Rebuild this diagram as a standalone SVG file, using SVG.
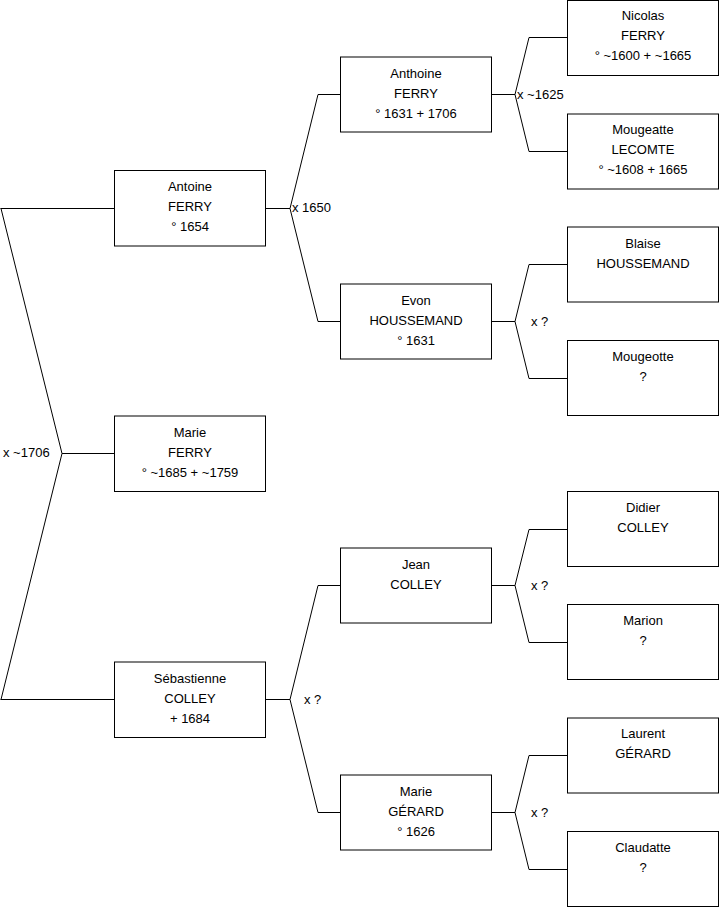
<svg xmlns="http://www.w3.org/2000/svg" width="719" height="908" viewBox="0 0 719 908">
<style>
.box{fill:#fff;stroke:#000;stroke-width:1}
.c{fill:none;stroke:#000;stroke-width:1}
text{font-family:"Liberation Sans",Arial,sans-serif;font-size:13px;fill:#000}
.n{text-anchor:middle}
</style>
<rect width="719" height="908" fill="#fff"/>
<g id="connectors">
<path class="c" d="M114 453.5H62 M0.5 208.5H114 M62 453.5L1 208.5 M62 453.5L1 699.5 M0.5 699.5H114"/>
<path class="c" d="M265 208.5H290 L318 94.5H341 M290 208.5L318 321.5H341"/>
<path class="c" d="M265 699.5H290 L318 585.5H341 M290 699.5L318 812.5H341"/>
<path class="c" d="M491 94.5H515 L529 37.5H567 M515 94.5L529 151.5H567"/>
<path class="c" d="M491 321.5H515 L529 264.5H567 M515 321.5L529 378.5H567"/>
<path class="c" d="M491 585.5H515 L529 529.5H567 M515 585.5L529 642.5H567"/>
<path class="c" d="M491 812.5H515 L529 755.5H567 M515 812.5L529 869.5H567"/>
<text x="3" y="457">x ~1706</text>
<text x="292" y="211.5">x 1650</text>
<text x="304" y="703.5">x ?</text>
<text x="517" y="98.5">x ~1625</text>
<text x="531" y="325.5">x ?</text>
<text x="531" y="589.5">x ?</text>
<text x="531" y="816.5">x ?</text>
</g>
<g id="antoine"><rect class="box" x="114.5" y="170.5" width="151" height="75.5"/><text class="n" x="190" y="191">Antoine</text><text class="n" x="190" y="211">FERRY</text><text class="n" x="190" y="231">° 1654</text></g>
<g id="marie-ferry"><rect class="box" x="114.5" y="416" width="151" height="75.5"/><text class="n" x="190" y="437">Marie</text><text class="n" x="190" y="457">FERRY</text><text class="n" x="190" y="477">° ~1685 + ~1759</text></g>
<g id="sebastienne"><rect class="box" x="114.5" y="662" width="151" height="75.5"/><text class="n" x="190" y="683">Sébastienne</text><text class="n" x="190" y="703">COLLEY</text><text class="n" x="190" y="723">+ 1684</text></g>
<g id="anthoine"><rect class="box" x="340.5" y="57" width="151" height="75"/><text class="n" x="416" y="78">Anthoine</text><text class="n" x="416" y="98">FERRY</text><text class="n" x="416" y="118">° 1631 + 1706</text></g>
<g id="evon"><rect class="box" x="340.5" y="284" width="151" height="75"/><text class="n" x="416" y="305">Evon</text><text class="n" x="416" y="325">HOUSSEMAND</text><text class="n" x="416" y="345">° 1631</text></g>
<g id="jean"><rect class="box" x="340.5" y="548" width="151" height="75"/><text class="n" x="416" y="569">Jean</text><text class="n" x="416" y="589">COLLEY</text></g>
<g id="marie-gerard"><rect class="box" x="340.5" y="775" width="151" height="75"/><text class="n" x="416" y="796">Marie</text><text class="n" x="416" y="816">GÉRARD</text><text class="n" x="416" y="836">° 1626</text></g>
<g id="nicolas"><rect class="box" x="567.5" y="0.5" width="151" height="75"/><text class="n" x="643" y="20">Nicolas</text><text class="n" x="643" y="40">FERRY</text><text class="n" x="643" y="60">° ~1600 + ~1665</text></g>
<g id="mougeatte"><rect class="box" x="567.5" y="114" width="151" height="75"/><text class="n" x="643" y="134">Mougeatte</text><text class="n" x="643" y="154">LECOMTE</text><text class="n" x="643" y="174">° ~1608 + 1665</text></g>
<g id="blaise"><rect class="box" x="567.5" y="227" width="151" height="75"/><text class="n" x="643" y="248">Blaise</text><text class="n" x="643" y="268">HOUSSEMAND</text></g>
<g id="mougeotte"><rect class="box" x="567.5" y="340.5" width="151" height="75"/><text class="n" x="643" y="361">Mougeotte</text><text class="n" x="643" y="381">?</text></g>
<g id="didier"><rect class="box" x="567.5" y="491.5" width="151" height="75"/><text class="n" x="643" y="512">Didier</text><text class="n" x="643" y="532">COLLEY</text></g>
<g id="marion"><rect class="box" x="567.5" y="604.5" width="151" height="75"/><text class="n" x="643" y="625">Marion</text><text class="n" x="643" y="645">?</text></g>
<g id="laurent"><rect class="box" x="567.5" y="718" width="151" height="75"/><text class="n" x="643" y="738">Laurent</text><text class="n" x="643" y="758">GÉRARD</text></g>
<g id="claudatte"><rect class="box" x="567.5" y="831.5" width="151" height="75"/><text class="n" x="643" y="852">Claudatte</text><text class="n" x="643" y="872">?</text></g>
</svg>
